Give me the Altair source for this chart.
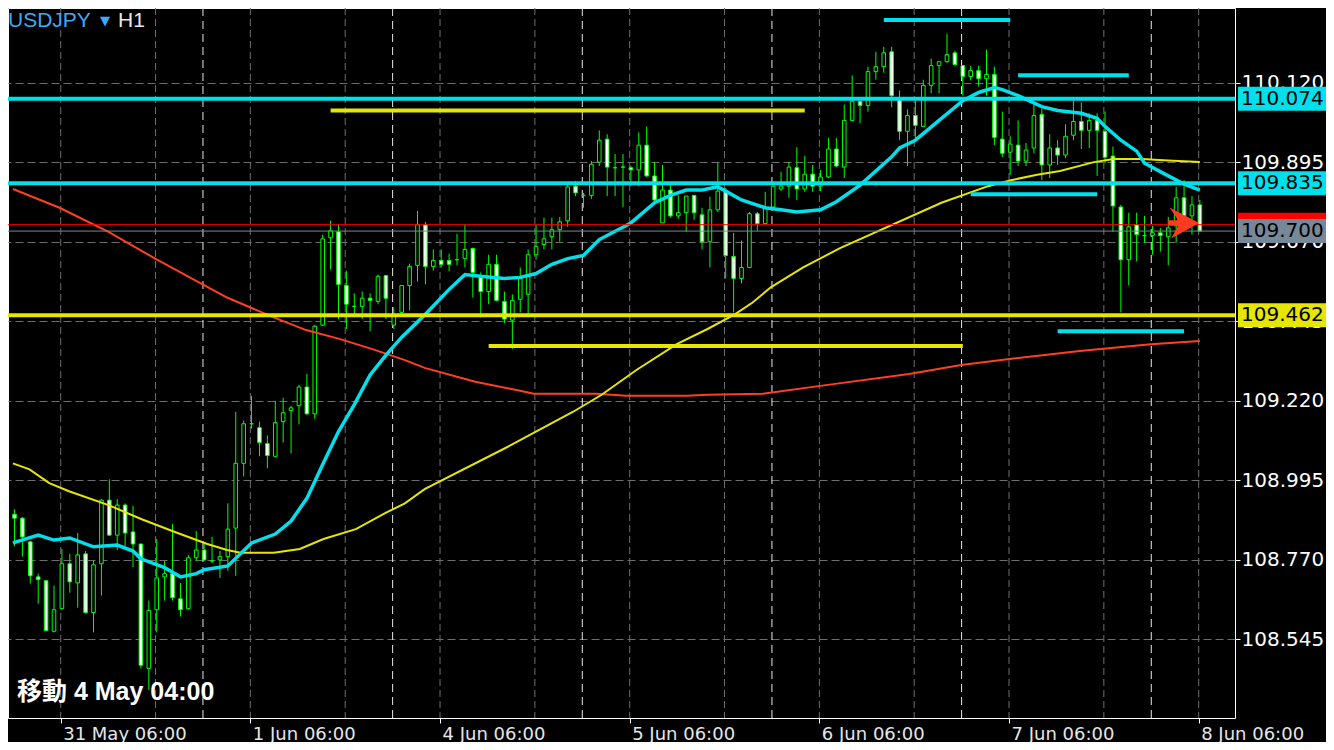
import altair as alt
import pandas as pd

# ---------------- data (USDJPY, H1) ----------------
opens = [108.899, 108.888, 108.821, 108.722, 108.711, 108.568, 108.632, 108.759, 108.705, 108.787,
         108.621, 108.759, 108.939, 108.840, 108.925, 108.849, 108.815, 108.463, 108.629, 108.722,
         108.731, 108.660, 108.632, 108.776, 108.798, 108.767, 108.770, 108.779, 108.860, 109.043,
         109.155, 109.144, 109.099, 109.063, 109.161, 109.192, 109.206, 109.259, 109.183, 109.434,
         109.681, 109.698, 109.546, 109.487, 109.487, 109.510, 109.501, 109.574, 109.434, 109.470,
         109.546, 109.603, 109.718, 109.600, 109.617, 109.617, 109.619, 109.622, 109.651, 109.574,
         109.529, 109.606, 109.501, 109.448, 109.507, 109.521, 109.633, 109.662, 109.684, 109.704,
         109.729, 109.827, 109.801, 109.801, 109.895, 109.960, 109.879, 109.881, 109.879, 109.873,
         109.943, 109.856, 109.723, 109.816, 109.743, 109.752, 109.801, 109.746, 109.670, 109.760,
         109.813, 109.628, 109.566, 109.597, 109.749, 109.721, 109.768, 109.819, 109.827, 109.879,
         109.819, 109.861, 109.827, 109.853, 109.932, 109.881, 110.013, 110.067, 110.055, 110.151,
         110.165, 110.207, 110.075, 109.982, 110.027, 109.996, 110.112, 110.168, 110.179, 110.204,
         110.168, 110.137, 110.154, 110.131, 110.143, 109.960, 109.923, 109.943, 109.898, 109.935,
         110.030, 109.887, 109.935, 109.915, 109.971, 110.010, 109.985, 110.013, 109.982, 109.912,
         109.768, 109.619, 109.718, 109.687, 109.687, 109.695, 109.684, 109.715, 109.794, 109.743,
         109.774]
highs = [108.913, 108.891, 108.824, 108.731, 108.711, 108.697, 108.801, 108.787, 108.846, 108.795,
         108.767, 108.942, 108.998, 108.942, 108.930, 108.922, 108.815, 108.655, 108.829, 108.767,
         108.871, 108.705, 108.784, 108.852, 108.818, 108.835, 108.795, 108.930, 109.189, 109.164,
         109.234, 109.161, 109.122, 109.220, 109.229, 109.206, 109.265, 109.296, 109.434, 109.690,
         109.729, 109.718, 109.588, 109.524, 109.529, 109.524, 109.577, 109.574, 109.484, 109.546,
         109.608, 109.757, 109.726, 109.648, 109.648, 109.636, 109.692, 109.718, 109.653, 109.583,
         109.633, 109.633, 109.529, 109.521, 109.597, 109.648, 109.718, 109.738, 109.738, 109.740,
         109.830, 109.842, 109.808, 109.898, 109.985, 109.974, 109.918, 109.918, 109.884, 109.979,
         109.996, 109.895, 109.887, 109.830, 109.801, 109.799, 109.801, 109.766, 109.797, 109.895,
         109.822, 109.695, 109.673, 109.754, 109.754, 109.811, 109.827, 109.867, 109.895, 109.937,
         109.912, 109.887, 109.873, 109.963, 109.963, 110.058, 110.140, 110.067, 110.165, 110.207,
         110.221, 110.221, 110.098, 110.044, 110.069, 110.128, 110.188, 110.179, 110.258, 110.210,
         110.168, 110.168, 110.168, 110.213, 110.165, 110.038, 109.968, 110.013, 109.949, 110.061,
         110.047, 109.974, 109.957, 110.002, 110.069, 110.064, 110.033, 110.033, 110.038, 109.939,
         109.774, 109.752, 109.752, 109.743, 109.715, 109.709, 109.740, 109.825, 109.844, 109.799,
         109.788]
lows = [108.809, 108.779, 108.703, 108.646, 108.646, 108.565, 108.629, 108.677, 108.635, 108.618,
        108.565, 108.669, 108.838, 108.798, 108.809, 108.750, 108.463, 108.402, 108.565, 108.655,
        108.655, 108.610, 108.629, 108.767, 108.767, 108.761, 108.719, 108.739, 108.725, 109.006,
        109.141, 109.063, 109.029, 109.060, 109.102, 109.071, 109.153, 109.181, 109.169, 109.431,
        109.591, 109.451, 109.423, 109.456, 109.451, 109.417, 109.493, 109.451, 109.423, 109.467,
        109.476, 109.557, 109.549, 109.588, 109.597, 109.586, 109.603, 109.597, 109.512, 109.456,
        109.493, 109.501, 109.439, 109.366, 109.470, 109.459, 109.619, 109.648, 109.648, 109.670,
        109.712, 109.799, 109.766, 109.791, 109.884, 109.799, 109.799, 109.768, 109.827, 109.827,
        109.853, 109.785, 109.723, 109.738, 109.735, 109.698, 109.732, 109.648, 109.597, 109.754,
        109.566, 109.470, 109.552, 109.595, 109.701, 109.721, 109.766, 109.813, 109.794, 109.788,
        109.811, 109.811, 109.813, 109.850, 109.881, 109.850, 110.011, 110.005, 110.038, 110.128,
        110.148, 110.050, 109.957, 109.884, 109.957, 109.996, 110.089, 110.089, 110.176, 110.168,
        110.083, 110.126, 110.109, 110.083, 109.943, 109.909, 109.859, 109.884, 109.884, 109.920,
        109.844, 109.850, 109.887, 109.906, 109.957, 109.932, 109.935, 109.856, 109.892, 109.698,
        109.470, 109.546, 109.614, 109.667, 109.633, 109.642, 109.603, 109.667, 109.704, 109.690,
        109.697]
closes = [108.888, 108.835, 108.725, 108.714, 108.570, 108.629, 108.759, 108.708, 108.784, 108.621,
          108.756, 108.939, 108.840, 108.925, 108.846, 108.815, 108.472, 108.627, 108.719, 108.731,
          108.663, 108.629, 108.776, 108.798, 108.770, 108.767, 108.779, 108.857, 109.043, 109.155,
          109.155, 109.102, 109.065, 109.158, 109.186, 109.200, 109.259, 109.183, 109.431, 109.678,
          109.701, 109.549, 109.493, 109.487, 109.510, 109.504, 109.572, 109.510, 109.459, 109.546,
          109.600, 109.718, 109.600, 109.617, 109.606, 109.606, 109.619, 109.648, 109.583, 109.529,
          109.606, 109.504, 109.451, 109.504, 109.566, 109.633, 109.656, 109.678, 109.704, 109.726,
          109.825, 109.808, 109.801, 109.889, 109.957, 109.881, 109.879, 109.881, 109.873, 109.943,
          109.856, 109.788, 109.816, 109.743, 109.752, 109.799, 109.752, 109.670, 109.760, 109.813,
          109.631, 109.566, 109.597, 109.749, 109.721, 109.766, 109.827, 109.827, 109.881, 109.819,
          109.861, 109.827, 109.853, 109.932, 109.884, 110.013, 110.067, 110.055, 110.151, 110.165,
          110.204, 110.083, 109.982, 110.027, 109.999, 110.112, 110.168, 110.179, 110.199, 110.171,
          110.137, 110.154, 110.131, 110.143, 109.965, 109.920, 109.946, 109.898, 109.929, 110.027,
          109.887, 109.935, 109.915, 109.968, 110.010, 109.985, 110.013, 109.985, 109.909, 109.771,
          109.619, 109.712, 109.690, 109.687, 109.695, 109.687, 109.709, 109.794, 109.743, 109.774,
          109.700]
bar_index = list(range(len(opens)))

# moving averages (bar index, price)
fast_k = [-0.2, 3, 5, 7, 10, 13, 15, 16, 19, 21, 23, 24, 27, 30, 33, 35, 37, 39, 41, 43, 45, 47, 49, 52,
          55, 57, 59, 62, 64, 66, 68, 70, 72, 74, 78, 81, 83, 85, 87, 89, 90, 92, 95, 97, 99, 102, 104,
          107, 111, 112, 114, 117, 120, 122, 124, 125, 127, 130, 132, 135, 137, 138, 140, 142, 143, 146,
          148, 150]
fast_p = [108.818, 108.840, 108.826, 108.832, 108.807, 108.812, 108.795, 108.773, 108.748, 108.722,
          108.731, 108.742, 108.753, 108.818, 108.843, 108.880, 108.944, 109.040, 109.133, 109.209,
          109.293, 109.349, 109.400, 109.465, 109.535, 109.577, 109.572, 109.566, 109.569, 109.580,
          109.606, 109.622, 109.631, 109.676, 109.723, 109.780, 109.801, 109.816, 109.816, 109.825,
          109.813, 109.788, 109.766, 109.760, 109.754, 109.760, 109.783, 109.830, 109.910, 109.935,
          109.957, 110.013, 110.069, 110.092, 110.106, 110.100, 110.083, 110.052, 110.041, 110.033,
          110.019, 109.996, 109.957, 109.926, 109.892, 109.856, 109.833, 109.816]
mid_k = [-0.2, 1.9, 4.4, 6.9, 11.9, 16.1, 20.3, 24.4, 26.9, 28.6, 32.8, 36.1, 39.1, 43.2, 46.9, 49.4,
         51.9, 62, 70.7, 74.3, 78.7, 83.8, 87.7, 91.2, 93.4, 95.7, 99.8, 104.4, 117.3, 123.2, 126.1,
         129.4, 132.3, 136.6, 139.1, 142.8, 144.8, 147.3, 150]
mid_p = [109.043, 109.026, 108.987, 108.964, 108.925, 108.885, 108.849, 108.815, 108.798, 108.790,
         108.790, 108.801, 108.829, 108.857, 108.902, 108.930, 108.970, 109.085, 109.189, 109.237,
         109.307, 109.380, 109.423, 109.465, 109.498, 109.541, 109.597, 109.651, 109.780, 109.827,
         109.844, 109.859, 109.870, 109.895, 109.904, 109.904, 109.901, 109.898, 109.895]
slow_k = [-0.2, 5.7, 11.9, 17.8, 24.1, 26.9, 32.8, 36.9, 41.1, 45.3, 49.4, 51.9, 58.3, 64.7, 65.7,
          73.6, 77.4, 85.1, 87.7, 94.7, 102.9, 113.2, 119.8, 125.9, 134.8, 143.8, 150]
slow_p = [109.819, 109.766, 109.698, 109.622, 109.546, 109.512, 109.456, 109.420, 109.395, 109.366,
          109.335, 109.313, 109.274, 109.245, 109.240, 109.240, 109.234, 109.234, 109.237, 109.240,
          109.265, 109.296, 109.321, 109.338, 109.361, 109.380, 109.389]

# horizontal objects
full_line_p = [110.074, 109.835, 109.462]
full_line_c = ["#00e0ec", "#00e0ec", "#e6e600"]
seg_k0 = [110, 127, 121, 132, 40, 60]
seg_k1 = [126, 141, 137, 148, 100, 120]
seg_p = [110.297, 110.141, 109.804, 109.417, 110.041, 109.375]
seg_c = ["#00e0ec", "#00e0ec", "#00e0ec", "#00e0ec", "#e6e600", "#e6e600"]
ask_price = 109.718
bid_price = 109.700
arrow_k = [147.94]
arrow_p = [109.723]

# price tags on the right (the red ask tag is almost hidden under the grey bid tag)
tag_p = [110.074, 109.835, 109.462]
tag_fill = ["#00e0ec", "#00e0ec", "#e6e600"]
ask_tag_fill = "#ff0000"
bid_tag_fill = "#778899"

# axis ticks / labels
price_ticks = [110.120, 109.895, 109.670, 109.445, 109.220, 108.995, 108.770, 108.545]
grid_k = [5.85, 17.85, 29.85, 41.85, 53.85, 65.85, 77.85, 89.85, 101.85, 113.85, 125.85, 137.85, 149.85]
day_k = [23.85, 47.85, 71.85, 95.85, 119.85, 143.85]
label_k = [5.85, 29.85, 53.85, 77.85, 101.85, 125.85, 149.85]
time_labels = ["31 May 06:00", "1 Jun 06:00", "4 Jun 06:00", "5 Jun 06:00",
               "6 Jun 06:00", "7 Jun 06:00", "8 Jun 06:00"]

# ---------------- chart ----------------
W, H = 1227, 710
GREEN = "#00ff00"
xs = alt.Scale(domain=[-0.1875, 153.8125], nice=False, zero=False)
ys = alt.Scale(domain=[108.3228, 110.3309], nice=False, zero=False)

labels_js = "[" + ",".join("'" + s + "'" for s in time_labels) + "]"
x_axis = alt.Axis(values=label_k, orient="bottom", tickSize=5, tickColor="#ffffff", domain=False,
                  grid=False, labelExpr=labels_js + "[round((datum.value - " + str(label_k[0]) + ") / 24)]",
                  labelAlign="left", labelBaseline="top", labelPadding=2, labelOffset=2,
                  labelFont="DejaVu Sans", labelFontSize=18, labelColor="#e6e6e6",
                  labelOverlap=False, labelFlush=False, title=None)
y_axis = alt.Axis(values=price_ticks, orient="right", format=".3f", tickSize=5, tickColor="#ffffff",
                  domain=False, grid=True, gridColor="#6e6e6e", gridDash=[8, 4], gridWidth=1,
                  labelFont="DejaVu Sans", labelFontSize=20, labelColor="#ffffff", labelPadding=1,
                  labelBaseline="middle", labelOverlap=False, labelFlush=False, title=None)


def X(field):
    return alt.X(field, scale=xs, axis=x_axis)


def Y(field):
    return alt.Y(field, scale=ys, axis=y_axis)


candles = pd.DataFrame({"k": bar_index, "o": opens, "h": highs, "l": lows, "c": closes})

vgrid = alt.Chart(pd.DataFrame({"k": grid_k})).mark_rule(
    color="#6e6e6e", strokeWidth=1, strokeDash=[7, 4]).encode(x=X("k:Q"))
days = alt.Chart(pd.DataFrame({"k": day_k})).mark_rule(
    color="#e8e8e8", strokeWidth=1, strokeDash=[8, 5]).encode(x=X("k:Q"))

wicks = alt.Chart(candles).mark_rule(color=GREEN, strokeWidth=1).encode(
    x=X("k:Q"), y=Y("l:Q"), y2="h:Q")
bodies = alt.Chart(candles).mark_bar(size=3.6, stroke=GREEN, strokeWidth=1).encode(
    x=X("k:Q"), y=Y("o:Q"), y2="c:Q",
    fill=alt.condition("datum.c < datum.o", alt.value("#ffffff"), alt.value("#000000")))


def ma_layer(kk, pp, color, width):
    return alt.Chart(pd.DataFrame({"k": kk, "p": pp})).mark_line(
        color=color, strokeWidth=width, clip=True).encode(x=X("k:Q"), y=Y("p:Q"))


slow = ma_layer(slow_k, slow_p, "#ff4020", 2)
mid = ma_layer(mid_k, mid_p, "#e6e600", 2)
fast = ma_layer(fast_k, fast_p, "#00e0ec", 3.5)

full_lines = alt.Chart(pd.DataFrame({"p": full_line_p, "c": full_line_c})).mark_rule(strokeWidth=4).encode(
    y=Y("p:Q"), color=alt.Color("c:N", scale=None))
segs = alt.Chart(pd.DataFrame({"k0": seg_k0, "k1": seg_k1, "p": seg_p, "c": seg_c})).mark_rule(
    strokeWidth=4).encode(x=X("k0:Q"), x2="k1:Q", y=Y("p:Q"), color=alt.Color("c:N", scale=None))
ask_bid = alt.Chart(pd.DataFrame({"p": [ask_price, bid_price], "c": ["#ff0000", "#778899"]})).mark_rule(
    strokeWidth=1).encode(y=Y("p:Q"), color=alt.Color("c:N", scale=None))

arrow_path = "M1,0 L-0.9,-1 L-0.35,-0.18 L-1,-0.18 L-1,0.18 L-0.35,0.18 L-0.8,1 Z"
arrow = alt.Chart(pd.DataFrame({"k": arrow_k, "p": arrow_p})).mark_point(
    shape=arrow_path, filled=True, size=961, color="#ff3b1f", opacity=1, strokeWidth=0).encode(
    x=X("k:Q"), y=Y("p:Q"))


def tag_layers(prices, fills, show_text=True):
    df = pd.DataFrame({"p": prices, "fill": fills, "label": [f"{v:.3f}" for v in prices]})
    box = alt.Chart(df).mark_rect(yOffset=-12, y2Offset=12).encode(
        x=alt.value(W + 3), x2=alt.value(W + 93), y=Y("p:Q"), y2="p:Q",
        fill=alt.Color("fill:N", scale=None))
    if not show_text:
        return [box]
    txt = alt.Chart(df).mark_text(align="left", baseline="middle", font="DejaVu Sans",
                                  fontSize=20, color="#000000").encode(
        x=alt.value(W + 6), y=Y("p:Q"), text="label:N")
    return [box, txt]


tags = tag_layers(tag_p, tag_fill) + tag_layers([ask_price], [ask_tag_fill], show_text=False) \
    + tag_layers([bid_price], [bid_tag_fill])

symbol_txt = alt.Chart(pd.DataFrame({"t": ["USDJPY"]})).mark_text(
    align="left", baseline="middle", font="Liberation Sans", fontSize=21, color="#3fa9f5").encode(
    x=alt.value(0), y=alt.value(12.5), text="t:N")
tri_txt = alt.Chart(pd.DataFrame({"t": ["▼"]})).mark_text(
    align="left", baseline="middle", font="DejaVu Sans", fontSize=13, color="#3fa9f5").encode(
    x=alt.value(92), y=alt.value(13), text="t:N")
tf_txt = alt.Chart(pd.DataFrame({"t": ["H1"]})).mark_text(
    align="left", baseline="middle", font="Liberation Sans", fontSize=21, color="#e8e8e8").encode(
    x=alt.value(110), y=alt.value(12.5), text="t:N")
scroll_txt = alt.Chart(pd.DataFrame({"t": ["移動 4 May 04:00"]})).mark_text(
    align="left", baseline="middle", font="Liberation Sans, Noto Sans CJK JP", fontSize=25,
    fontWeight="bold", color="#ffffff").encode(
    x=alt.value(9), y=alt.value(684), text="t:N")

chart = alt.layer(
    vgrid, days, wicks, bodies, slow, mid, fast, full_lines, segs, ask_bid, arrow,
    *tags, symbol_txt, tri_txt, tf_txt, scroll_txt
).properties(
    width=W, height=H,
    padding={"left": 0, "top": 0, "right": 91, "bottom": 24},
    autosize=alt.AutoSizeParams(type="none"),
    background="#000000"
).configure_view(stroke="#ffffff", strokeWidth=1, fill="#000000")

chart.save("out.html", embed_options={"renderer": "svg", "actions": False})
